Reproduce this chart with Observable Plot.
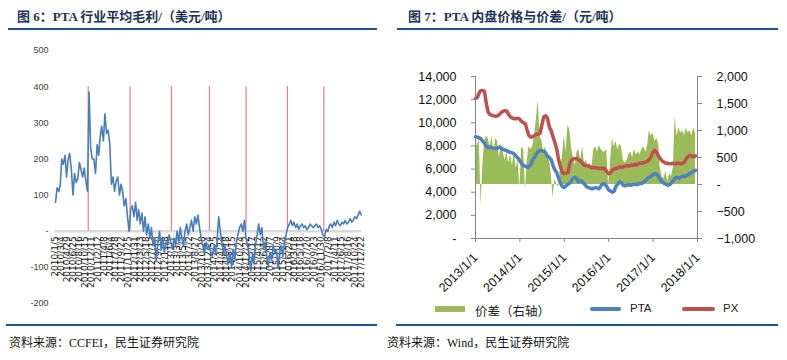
<!DOCTYPE html>
<html><head><meta charset="utf-8">
<script src="https://cdn.jsdelivr.net/npm/d3@7"></script>
<script src="https://cdn.jsdelivr.net/npm/@observablehq/plot@0.6"></script>
<style>
body{margin:0;background:#fff;}
#page{position:relative;width:787px;height:360px;overflow:hidden;background:#fff;}
.title{position:absolute;top:9px;font:bold 13px "Liberation Serif","Noto Sans CJK SC",serif;color:#1c3557;white-space:nowrap;line-height:16px;}
.rule{position:absolute;height:2px;background:#1a5296;}
.src{position:absolute;top:335px;font:12px "Liberation Serif","Noto Sans CJK SC",serif;color:#111;white-space:nowrap;line-height:16px;}
.chart{position:absolute;}
.lg{position:absolute;white-space:nowrap;}
</style></head>
<body><div id="page">
<div class="title" style="left:17px">图 6：PTA 行业平均毛利/（美元/吨）</div>
<div class="rule" style="left:8px;top:28px;width:369px"></div>
<div class="title" style="left:408px">图 7：PTA 内盘价格与价差/（元/吨）</div>
<div class="rule" style="left:397px;top:28px;width:381px"></div>
<div id="leftChart" class="chart" style="left:0;top:40px"></div>
<div id="rightChart" class="chart" style="left:393px;top:60px"></div>
<div class="lg" style="left:435px;top:306px;width:30px;height:6px;background:#9bbb59"></div>
<div class="lg" style="left:475px;top:301px;font:12.5px 'Noto Sans CJK SC',sans-serif;color:#222">价差（右轴）</div>
<div class="lg" style="left:590px;top:307px;width:31px;height:4px;border-radius:2px;background:#4f81bd"></div>
<div class="lg" style="left:630px;top:302px;font:11.5px 'Liberation Sans',sans-serif;color:#222">PTA</div>
<div class="lg" style="left:682px;top:307px;width:33px;height:4px;border-radius:2px;background:#c0504d"></div>
<div class="lg" style="left:723px;top:302px;font:11.5px 'Liberation Sans',sans-serif;color:#222">PX</div>
<div class="rule" style="left:6px;top:324px;width:371px"></div>
<div class="rule" style="left:396px;top:324px;width:382px"></div>
<div class="src" style="left:9px">资料来源：CCFEI，民生证券研究院</div>
<div class="src" style="left:387px">资料来源：Wind，民生证券研究院</div>
</div>
<script>
// ---------- Figure 6: PTA average gross margin (USD/t), semi-monthly samples ----------
const profitYears = [2010, 2011, 2012, 2013, 2014, 2015, 2016, 2017];
const profitSampleDays = [5, 20];
const profit2010 = [80,120,110,130,200,185,210,150,200,215,170,100,160,135,145,190,170,150,175,140,110,385,230,200];
const profit2011 = [200,160,240,210,260,290,250,325,270,280,240,130,150,110,140,150,100,130,110,70,90,40,0,60];
const profit2012 = [70,40,80,30,60,20,50,0,40,-10,20,-20,10,-40,-20,-80,-30,0,-50,-20,-60,-30,-40,-10];
const profit2013 = [-30,-50,-20,-40,0,-30,10,-20,-40,0,20,-10,10,30,0,40,20,45,10,-20,-40,-60,-30,-50];
const profit2014 = [-40,-60,-70,-40,-60,-30,40,0,-30,-60,-40,-70,-90,-60,-100,-50,-80,-30,-10,10,20,0,30,-20];
const profit2015 = [-40,-70,-110,-60,-90,-40,-10,20,-10,10,-50,-30,-70,-100,-60,-80,-40,-60,-50,-100,-60,-40,-70,-30];
const profit2016 = [-10,10,20,30,15,25,10,20,5,15,20,10,15,5,10,20,15,10,15,20,10,15,5,-10];
const profit2017 = [-15,5,0,15,20,10,25,15,30,20,15,25,20,30,20,25,35,25,30,40,35,45,55,45];
const profitTickLabels = ["2010/1/5","2010/3/4","2010/4/29","2010/6/25","2010/8/16","2010/10/15","2010/12/11",
 "2011/2/12","2011/4/8","2011/6/4","2011/7/28","2011/9/22","2011/11/25","2012/1/31","2012/3/23","2012/5/18",
 "2012/7/13","2012/9/10","2012/11/8","2013/1/7","2013/3/5","2013/5/3","2013/7/2","2013/8/27","2013/10/28",
 "2013/12/24","2014/2/25","2014/4/24","2014/6/18","2014/8/15","2014/10/24","2014/12/22","2015/2/17",
 "2015/4/17","2015/6/12","2015/8/7","2015/10/9","2015/12/4","2016/2/1","2016/3/18","2016/5/18","2016/7/20",
 "2016/9/23","2016/11/30","2017/2/8","2017/4/11","2017/6/15","2017/8/16","2017/10/24","2017/12/22"];
const markerDates = ["2010/11/12","2011/12/15","2013/1/11","2014/1/7","2014/12/21","2016/1/18","2016/12/29"];
const profitYTicks = [-200,-100,0,100,200,300,400,500];

// ---------- Figure 7: PTA / PX prices (CNY/t, left) and spread (right), semi-monthly ----------
const priceYears = [2013, 2014, 2015, 2016, 2017];
const priceSampleDays = [1, 16];
const ptaValues = [
 8800,8750,8700,8600,8400,8250,7950,7850,7900,7850,7800,7780,7800,7900,7800,7700,7650,7600,7500,7450,7400,7300,7100,6950,
 6700,6450,6300,6250,6150,6200,6400,6800,7000,7300,7500,7600,7600,7550,7400,7100,7000,6800,6300,5900,5700,5200,4800,4500,
 4400,4550,4700,4800,5000,5200,5300,5100,4900,5000,4900,4700,4500,4400,4350,4300,4350,4400,4350,4300,4600,4750,4700,4500,
 4200,4100,4000,4100,4500,4700,4900,4800,4600,4550,4600,4650,4600,4650,4700,4650,4700,4750,4750,4900,5000,5200,5300,5400,
 5500,5600,5550,5300,5100,4900,4750,4700,4600,4650,4800,5000,5200,5300,5200,5300,5400,5350,5450,5500,5650,5700,5800,5900];
const pxValues = [
 12100,12200,12600,12800,12800,12700,11600,10900,10700,10650,10600,10550,10600,10700,10900,11000,11050,11000,10700,10500,10400,10350,10350,10400,
 10300,10100,10000,9900,9400,8900,8750,8800,8900,9000,9000,9100,9800,10500,10600,10400,9600,9300,8800,8300,7700,6800,6200,5700,
 5600,5650,5700,6500,6750,6900,6900,6900,6800,6700,6500,6300,6300,6250,6200,6100,6150,6100,6100,6050,6050,6100,6000,5800,
 5600,5650,5900,6000,6050,6100,6200,6150,6200,6250,6300,6250,6350,6300,6400,6350,6450,6500,6500,6550,6600,6700,6800,7100,
 7500,7600,7400,7100,6900,6700,6600,6500,6500,6450,6450,6500,6450,6500,6500,6450,6500,6600,6900,7100,7200,7100,7050,7150];
const spreadValues = [
 950,700,850,-400,300,800,900,850,700,900,600,850,800,500,750,600,450,600,400,550,350,600,300,450,
 -50,700,650,-100,400,700,650,700,900,1200,1550,900,800,600,700,500,450,200,-250,100,0,-50,300,500,
 900,600,1100,1000,700,500,350,600,650,450,700,400,450,350,400,300,650,700,600,720,650,600,600,650,
 0,400,850,700,800,650,750,700,450,400,450,550,600,500,650,550,600,550,650,700,600,700,1000,900,
 950,800,850,750,300,150,100,250,50,200,150,300,1250,900,1050,950,1000,900,1050,950,1000,900,1050,950];
const priceTicks = [0,2000,4000,6000,8000,10000,12000,14000];
const spreadTicks = [-1000,-500,0,500,1000,1500,2000];
const yearTickLabels = ["2013/1/1","2014/1/1","2015/1/1","2016/1/1","2017/1/1","2018/1/1"];

// ---------- helpers ----------
const parseSlash = s => { const [y,m,d] = s.split("/").map(Number); return new Date(Date.UTC(y, m-1, d)); };
function sampleDates(years, days) {
  const out = [];
  for (const y of years) for (let m = 0; m < 12; m++) for (const d of days) out.push(new Date(Date.UTC(y, m, d)));
  return out;
}

// ---------- left chart ----------
const profitAll = [].concat(profit2010, profit2011, profit2012, profit2013, profit2014, profit2015, profit2016, profit2017);
const profitDates = sampleDates(profitYears, profitSampleDays);
const profitData = profitDates.map((date, i) => ({date, v: profitAll[i]}));
const labelData = profitTickLabels.map(label => ({date: parseSlash(label), label}));
const markers = markerDates.map(parseSlash);

const leftPlot = Plot.plot({
  width: 380, height: 272,
  marginLeft: 55, marginRight: 19, marginTop: 10, marginBottom: 9,
  x: {type: "utc", domain: [parseSlash("2010/1/5"), parseSlash("2017/12/22")], axis: null},
  y: {domain: [-200, 500], axis: null},
  style: {fontFamily: "'Liberation Sans', Arial, sans-serif", background: "#fff"},
  marks: [
    Plot.ruleY([0], {stroke: "#d9d9d9", strokeWidth: 2.5}),
    Plot.text(labelData, {x: "date", y: d => 0, text: "label", rotate: -90, textAnchor: "end", dy: 5,
      fontSize: 9, fontFamily: "'DejaVu Sans', sans-serif", fill: "#222"}),
    Plot.ruleX(markers, {x: d => d, y1: d => 0, y2: d => 400, stroke: "#e08585", strokeWidth: 1.2}),
    Plot.lineY(profitData, {x: "date", y: "v", stroke: "#4a7ebb", strokeWidth: 1.6}),
    Plot.axisY(profitYTicks, {anchor: "left", label: null, tickSize: 0, tickPadding: 7, fontSize: 9, fill: "#404040",
      tickFormat: d => d === 0 ? "-" : String(d)})
  ]
});
document.getElementById("leftChart").appendChild(leftPlot);

// ---------- right chart ----------
const toLeft = s => (s + 1000) * 14000 / 3000;   // right-axis value -> left-axis units
const baseY = toLeft(0);
const priceDates = sampleDates(priceYears, priceSampleDays);
const priceData = priceDates.map((date, i) => ({date, pta: ptaValues[i], px: pxValues[i], spread: toLeft(spreadValues[i])}));
const fmt = d3.format(",");
const x0 = new Date(Date.UTC(2013,0,1)), x1 = new Date(Date.UTC(2018,0,1));

const rightPlot = Plot.plot({
  width: 394, height: 245,
  marginLeft: 82, marginRight: 90, marginTop: 16, marginBottom: 67,
  x: {type: "utc", domain: [x0, x1], axis: null},
  y: {domain: [0, 14000], axis: null},
  style: {fontFamily: "'Liberation Sans', Arial, sans-serif", background: "#fff", color: "#111"},
  marks: [
    Plot.areaY(priceData, {x: "date", y1: d => baseY, y2: "spread", fill: "#9bbb59"}),
    Plot.lineY(priceData, {x: "date", y: "pta", stroke: "#4f81bd", strokeWidth: 3.5}),
    Plot.lineY(priceData, {x: "date", y: "px", stroke: "#c0504d", strokeWidth: 3.5}),
    Plot.ruleX([x0, x1], {stroke: "#868686"}),
    Plot.ruleY([0], {stroke: "#868686"}),
    Plot.axisY(priceTicks, {anchor: "left", label: null, tickSize: 4, tickPadding: 15, fontSize: 12.5, stroke: "#868686", fill: "#111",
      tickFormat: d => d === 0 ? "-" : fmt(d)}),
    Plot.axisY(spreadTicks.map(toLeft), {anchor: "right", label: null, tickSize: 4, tickPadding: 15, fontSize: 12.5, stroke: "#868686", fill: "#111",
      tickFormat: d => { const s = Math.round(d * 3000 / 14000 - 1000); return s === 0 ? "-" : fmt(s); }}),
    Plot.axisX(yearTickLabels.map(parseSlash), {anchor: "bottom", label: null, tickSize: 4, tickPadding: 13, tickRotate: -45, fontSize: 12.5,
      stroke: "#868686", fill: "#111", tickFormat: d => yearTickLabels.find(l => parseSlash(l).getTime() === d.getTime())})
  ]
});
document.getElementById("rightChart").appendChild(rightPlot);
</script>
</body></html>
